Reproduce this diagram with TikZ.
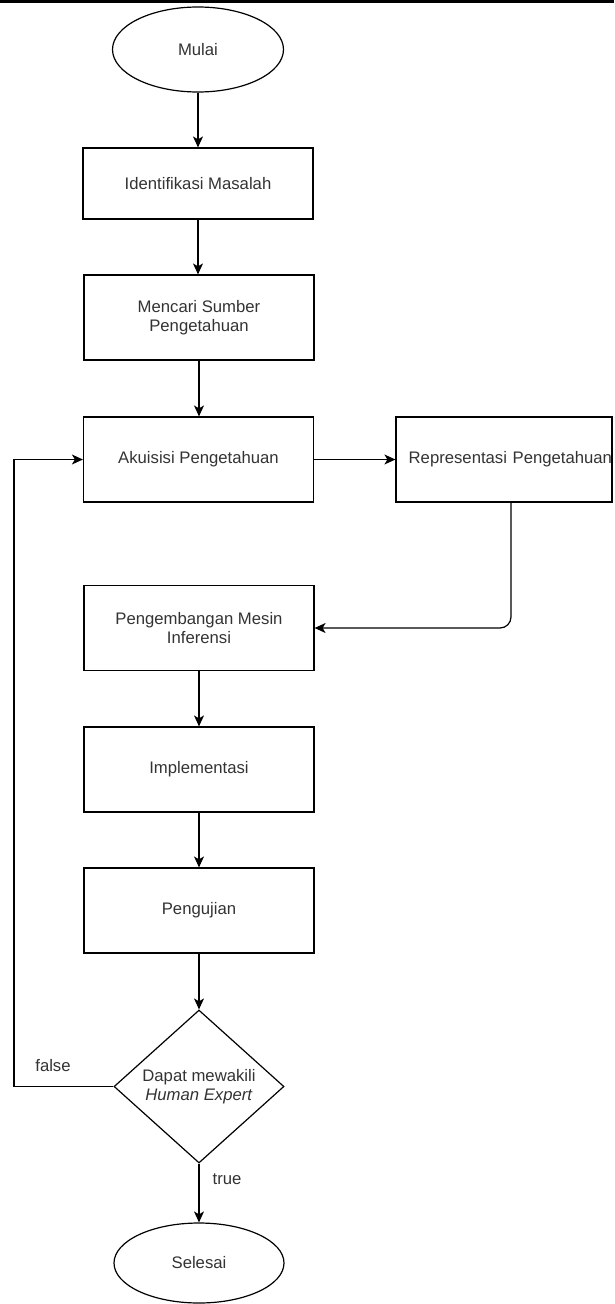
\documentclass[tikz,border=0pt]{standalone}
\usepackage{fontspec}
\setmainfont{Liberation Sans}
\usetikzlibrary{shapes.geometric,arrows.meta}
\definecolor{txt}{HTML}{333333}
\tikzset{
  boxnode/.style={draw=black, line width=1.2pt, minimum width=230pt, minimum height=85pt, inner sep=0pt, align=center, text=txt},
  termnode/.style={ellipse, draw=black, line width=1.2pt, minimum width=171pt, minimum height=85pt, inner sep=0pt, text=txt},
  decnode/.style={diamond, draw=black, line width=1.2pt, minimum width=170pt, minimum height=153pt, inner sep=0pt, align=center, text=txt},
  arr/.style={draw=black, line width=1.2pt, -{Stealth[length=11pt,width=10pt,inset=3pt]}},
  lbl/.style={text=txt, inner sep=0pt}
}
\begin{document}
\begin{tikzpicture}[x=1pt,y=-1pt,font=\fontsize{16.7}{19.5}\selectfont]
\useasboundingbox (0,0) rectangle (614,1304);
\fill[black] (0,0) rectangle (614,3);
\node[termnode] (mulai) at (198,49.5) {Mulai};
\node[boxnode, minimum height=71pt] (ident) at (198,183.5) {Identifikasi Masalah};
\node[boxnode] (sumber) at (199,317.5) {Mencari Sumber\\Pengetahuan};
\node[boxnode] (akuisisi) at (198.5,459.5) {Akuisisi Pengetahuan};
\node[draw=black, line width=1.2pt, minimum height=85pt, text width=216pt, inner xsep=0pt, inner ysep=0pt, align=right, text=txt] (repr) at (504,459.5) {Representasi Pengetahuan};
\node[boxnode] (mesin) at (199,628) {Pengembangan Mesin\\Inferensi};
\node[boxnode] (impl) at (199,769.5) {Implementasi};
\node[boxnode] (uji) at (199,910.5) {Pengujian};
\node[decnode] (dec) at (199,1086.5) {Dapat mewakili\\\textit{Human Expert}};
\node[termnode, minimum width=170pt, minimum height=80pt] (selesai) at (199,1263) {Selesai};
\coordinate (corner) at (511,628);
\coordinate (back) at (14,1086.5);
\draw[arr] (mulai.south) -- (mulai.south |- ident.north);
\draw[arr] (ident.south) -- (ident.south |- sumber.north);
\draw[arr] (sumber.south) -- (sumber.south |- akuisisi.north);
\draw[arr] (akuisisi.east) -- (repr.west);
\draw[arr, rounded corners=11pt] (corner |- repr.south) -- (corner) -- (mesin.east);
\draw[arr] (mesin.south) -- (impl.north);
\draw[arr] (impl.south) -- (uji.north);
\draw[arr] (uji.south) -- (dec.north);
\draw[arr] (dec.west) -- (back) -- (back |- akuisisi.west) -- (akuisisi.west);
\draw[arr] (dec.south) -- (selesai.north);
\node[lbl] (lfalse) at (53,1066) {false};
\node[lbl] (ltrue) at (227,1179) {true};
\end{tikzpicture}
\end{document}
